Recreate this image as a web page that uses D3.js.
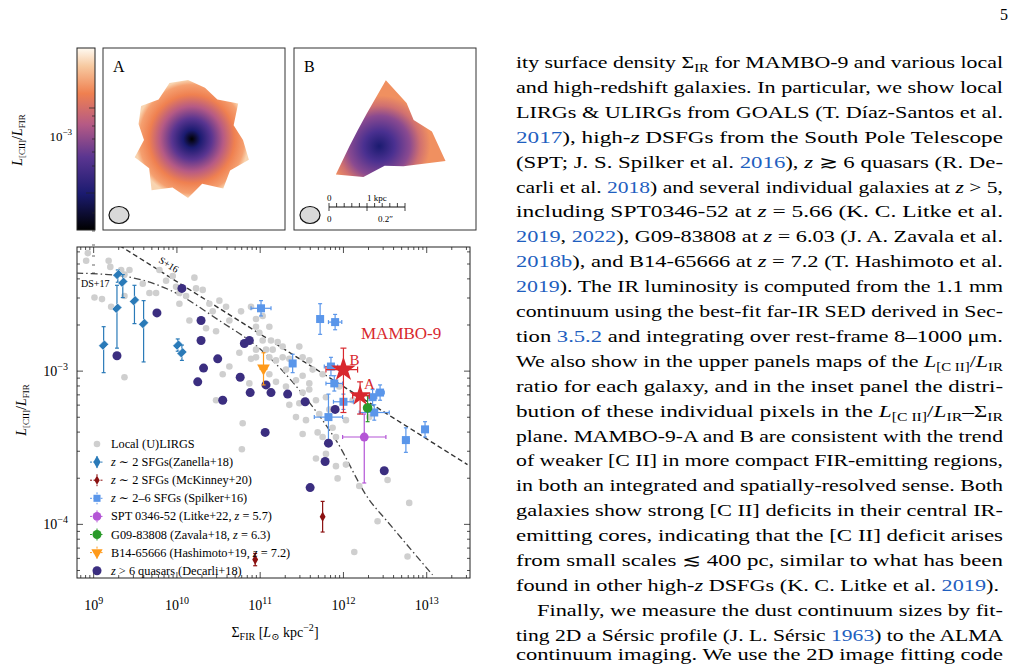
<!DOCTYPE html>
<html><head><meta charset="utf-8">
<script src="https://cdn.jsdelivr.net/npm/d3@7"></script>
<style>body{margin:0;background:#fff}svg{font-family:"Liberation Serif","DejaVu Serif",serif}</style>
</head><body><svg id="c" width="1033" height="664"></svg>
<script>
// ---- data (log10 values) ----
const localLIRGs = [[8.93,-2.23],[8.91,-2.28],[9.18,-2.28],[9.20,-2.32],[9.33,-2.34],[9.43,-2.34],[9.37,-2.37],[9.01,-2.52],[9.10,-2.53],[9.21,-2.58],[9.37,-2.51],[9.59,-2.43],[9.67,-2.49],[9.75,-2.49],[9.79,-2.34],[9.87,-2.41],[9.95,-2.38],[9.99,-2.45],[10.03,-2.49],[10.11,-2.51],[10.03,-2.56],[10.21,-2.39],[10.23,-2.46],[10.31,-2.47],[10.39,-2.56],[10.51,-2.54],[10.59,-2.58],[10.43,-2.61],[10.15,-2.67],[10.35,-2.72],[10.47,-2.74],[10.63,-2.67],[10.77,-2.61],[10.89,-2.58],[10.95,-2.66],[11.03,-2.64],[10.95,-2.71],[10.99,-2.75],[11.11,-2.71],[11.03,-2.80],[11.13,-2.80],[11.21,-2.81],[11.27,-2.84],[11.15,-2.86],[11.07,-2.86],[10.95,-2.86],[10.89,-2.92],[10.95,-2.91],[11.11,-2.91],[11.27,-2.91],[11.19,-2.93],[11.35,-2.92],[11.47,-2.84],[11.51,-2.91],[11.59,-2.93],[11.31,-2.99],[11.19,-3.07],[11.43,-3.06],[11.51,-3.03],[11.63,-2.99],[11.75,-3.02],[11.59,-3.12],[11.47,-3.21],[11.35,-3.22],[11.43,-3.30],[11.55,-3.32],[11.79,-3.17],[11.67,-3.19],[11.95,-3.10],[10.47,-3.19],[10.79,-3.34],[10.63,-2.97],[10.55,-3.02],[9.37,-3.04],[11.51,-3.41],[11.69,-3.40],[11.75,-3.43],[11.91,-3.43],[12.03,-3.32],[11.87,-3.37],[11.67,-3.57],[11.79,-3.54],[11.91,-3.62],[12.03,-3.61],[11.93,-3.70],[12.19,-3.75],[12.53,-3.71],[12.41,-3.98],[12.13,-4.18],[12.77,-4.21],[12.79,-3.86],[10.78,-3.51],[12.11,-3.19],[12.31,-3.30],[11.51,-3.14],[11.71,-3.28],[11.83,-3.25],[11.31,-3.10],[11.59,-3.08],[11.11,-3.02],[10.87,-3.08],[10.75,-2.88]];
// [logx, logy, yErrLow, yErrHigh]
const zanella = [[9.29,-2.37,0.05,0.03],[9.35,-2.42,0.10,0.05],[9.28,-2.59,0.26,0.15],[9.49,-2.54,0.15,0.10],[9.60,-2.69,0.25,0.15],[9.12,-2.83,0.18,0.12],[10.01,-2.83,0.04,0.04],[10.06,-2.88,0.05,0.05]];
const mckinney = [[11.75,-3.95,0.10,0.10],[10.94,-4.23,0.04,0.04]];
// [logx, logy, xErr, yErr]
const spilker = [[11.01,-2.59,0.12,0.05],[11.72,-2.66,0.03,0.10],[11.90,-2.68,0.08,0.05],[11.39,-2.95,0.02,0.06],[11.85,-2.97,0.08,0.06],[11.89,-3.08,0.10,0.05],[12.00,-3.20,0.12,0.05],[12.35,-3.17,0.05,0.05],[12.44,-3.14,0.05,0.05],[12.37,-3.27,0.18,0.05],[11.82,-3.30,0.17,0.15],[12.75,-3.45,0.04,0.08],[12.98,-3.38,0.02,0.05]];
const quasars = [[10.06,-2.46],[9.76,-2.62],[10.29,-2.67],[10.29,-2.80],[10.81,-2.82],[10.87,-2.80],[9.28,-2.90],[10.49,-2.92],[10.32,-2.98],[10.25,-3.07],[10.76,-3.04],[11.07,-3.09],[10.88,-3.14],[11.13,-3.14],[11.33,-3.15],[10.55,-3.19],[11.54,-3.20],[11.90,-3.25],[11.06,-3.40],[11.82,-3.47],[11.78,-3.59],[12.49,-3.65],[11.60,-3.76]];
// [logx, logy, xlo, xhi, ylo, yhi]
const spt0346 = [[12.25,-3.43,11.99,12.51,-3.73,-3.28]];
const g09 = [[12.29,-3.24,12.29,12.29,-3.33,-3.16]];
const b14 = [[11.04,-2.98,11.00,11.08,-3.09,-2.88]];
const mambo = [["B",12.00,-2.99,11.79,12.17,-3.27,-2.85],["A",12.20,-3.16,12.11,12.31,-3.28,-3.07]];
const s16Line = [[9.31,-2.18],[13.49,-3.61]];
const ds17Curve = [[8.79,-2.36],[9.35,-2.38],[9.91,-2.47],[10.51,-2.67],[11.03,-2.87],[11.51,-3.15],[11.91,-3.45],[12.31,-3.84],[12.51,-3.97],[13.07,-4.33]];
const xTickExp = [9,10,11,12,13];
const yTickExp = [-3,-4];
const legendLabels = [["Local (U)LIRGS"],["z"," ∼ 2 SFGs(Zanella+18)"],["z"," ∼ 2 SFGs (McKinney+20)"],["z"," ∼ 2–6 SFGs (Spilker+16)"],["SPT 0346-52 (Litke+22, ","z"," = 5.7)"],["G09-83808 (Zavala+18, ","z"," = 6.3)"],["B14-65666 (Hashimoto+19, ","z"," = 7.2)"],["z"," > 6 quasars (Decarli+18)"]];

const svg = d3.select("#c");
const C = {grey:"#cfcfcf",zan:"#2a7ab8",mck:"#8b1010",spi:"#5a96ea",spt:"#b455d6",g09:"#2a9a2a",b14:"#ff9a1a",qso:"#3b2e80",red:"#d8282e"};
const P = 10;
const x = d3.scaleLog().domain([P**8.8,P**13.52]).range([77,470]);
const y = d3.scaleLog().domain([P**-4.35,P**-2.19]).range([578,247]);
const X = l=>x(P**l), Y = l=>y(P**l);
const g = svg.append("g");
g.append("rect").attr("x",77).attr("y",247).attr("width",393).attr("height",331).attr("fill","none").attr("stroke","#222").attr("stroke-width",1);
svg.append("clipPath").attr("id","pc").append("rect").attr("x",77).attr("y",247).attr("width",393).attr("height",331);
const pg = g.append("g").attr("clip-path","url(#pc)");

[["b",578],["t",247]].forEach(([s,yy])=>{
  const a = g.append("g").attr("transform",`translate(0,${yy})`);
  x.ticks().forEach(t=>{const maj=Math.abs(Math.log10(t)%1)<1e-6; const len=maj?6:3; a.append("line").attr("x1",x(t)).attr("x2",x(t)).attr("y1",0).attr("y2",s=="b"?-len:len).attr("stroke","#222").attr("stroke-width",0.8);});
});
[["l",77],["r",470]].forEach(([s,xx])=>{
  const a = g.append("g").attr("transform",`translate(${xx},0)`);
  y.ticks().forEach(t=>{const maj=Math.abs(Math.log10(t)%1)<1e-6; const len=maj?6:3; a.append("line").attr("y1",y(t)).attr("y2",y(t)).attr("x1",0).attr("x2",s=="l"?len:-len).attr("stroke","#222").attr("stroke-width",0.8);});
});
xTickExp.forEach(e=>{const t=g.append("text").attr("x",X(e)).attr("y",610).attr("text-anchor","middle").attr("font-size",14);t.append("tspan").text("10");t.append("tspan").attr("dy",-6).attr("font-size",10).text(e);});
yTickExp.forEach(e=>{const t=g.append("text").attr("x",68).attr("y",Y(e)+5).attr("text-anchor","end").attr("font-size",14);t.append("tspan").text("10");t.append("tspan").attr("dy",-6).attr("font-size",10).text("−"+(-e));});
const xl = g.append("text").attr("x",275).attr("y",637).attr("text-anchor","middle").attr("font-size",14);
xl.append("tspan").text("Σ");xl.append("tspan").attr("font-size",10).attr("dy",3).text("FIR");xl.append("tspan").attr("dy",-3).text(" [");xl.append("tspan").attr("font-style","italic").text("L");xl.append("tspan").attr("font-size",10).attr("dy",3).text("⊙");xl.append("tspan").attr("dy",-3).text(" kpc");xl.append("tspan").attr("font-size",10).attr("dy",-6).text("−2");xl.append("tspan").attr("dy",6).text("]");
function ylab(cx,cy){const t=svg.append("text").attr("transform",`translate(${cx},${cy}) rotate(-90)`).attr("text-anchor","middle").attr("font-size",14);
 t.append("tspan").attr("font-style","italic").text("L");t.append("tspan").attr("font-size",9).attr("dy",3).text("[CII]");t.append("tspan").attr("dy",-3).text("/");t.append("tspan").attr("font-style","italic").text("L");t.append("tspan").attr("font-size",9).attr("dy",3).text("FIR");}
ylab(26,410);

pg.append("path").attr("d",d3.line().x(d=>X(d[0])).y(d=>Y(d[1]))(s16Line)).attr("fill","none").attr("stroke","#333").attr("stroke-width",1.4).attr("stroke-dasharray","5,3");
pg.append("path").attr("d",d3.line().curve(d3.curveMonotoneX).x(d=>X(d[0])).y(d=>Y(d[1]))(ds17Curve)).attr("fill","none").attr("stroke","#444").attr("stroke-width",1.3).attr("stroke-dasharray","7,3,1.5,3");
g.append("text").attr("transform","translate(158,262) rotate(32)").attr("font-size",10).text("S+16");
g.append("text").attr("x",81).attr("y",287).attr("font-size",10).text("DS+17");

pg.selectAll(".gl").data(localLIRGs).join("circle").attr("cx",d=>X(d[0])).attr("cy",d=>Y(d[1])).attr("r",3.3).attr("fill",C.grey);
function vbar(p,xv,lo,hi,col,w){p.append("line").attr("x1",X(xv)).attr("x2",X(xv)).attr("y1",Y(lo)).attr("y2",Y(hi)).attr("stroke",col).attr("stroke-width",1.2);[lo,hi].forEach(v=>p.append("line").attr("x1",X(xv)-w).attr("x2",X(xv)+w).attr("y1",Y(v)).attr("y2",Y(v)).attr("stroke",col).attr("stroke-width",1.2));}
function hbar(p,yv,lo,hi,col,w){p.append("line").attr("y1",Y(yv)).attr("y2",Y(yv)).attr("x1",X(lo)).attr("x2",X(hi)).attr("stroke",col).attr("stroke-width",1.2);[lo,hi].forEach(v=>p.append("line").attr("y1",Y(yv)-w).attr("y2",Y(yv)+w).attr("x1",X(v)).attr("x2",X(v)).attr("stroke",col).attr("stroke-width",1.2));}
const sym=(t,s)=>d3.symbol().type(t).size(s)();
spilker.forEach(d=>{hbar(pg,d[1],d[0]-d[2],d[0]+d[2],C.spi,2);vbar(pg,d[0],d[1]-d[3],d[1]+d[3],C.spi,2);});
pg.selectAll(".sp").data(spilker).join("rect").attr("x",d=>X(d[0])-4).attr("y",d=>Y(d[1])-4).attr("width",8).attr("height",8).attr("fill",C.spi);
quasars.forEach(d=>pg.append("circle").attr("cx",X(d[0])).attr("cy",Y(d[1])).attr("r",4.5).attr("fill",C.qso));
zanella.forEach(d=>{vbar(pg,d[0],d[1]-d[2],d[1]+d[3],C.zan,2);pg.append("path").attr("d",sym(d3.symbolSquare,50)).attr("transform",`translate(${X(d[0])},${Y(d[1])}) rotate(45) scale(0.85,1.15)`).attr("fill",C.zan).attr("stroke","#fff").attr("stroke-width",0.5);});
mckinney.forEach(d=>{vbar(pg,d[0],d[1]-d[2],d[1]+d[3],C.mck,2);pg.append("path").attr("d",sym(d3.symbolDiamond,30)).attr("transform",`translate(${X(d[0])},${Y(d[1])})`).attr("fill",C.mck);});
b14.forEach(d=>{vbar(pg,d[0],d[4],d[5],C.b14,2);hbar(pg,d[1],d[2],d[3],C.b14,2);pg.append("path").attr("d",sym(d3.symbolTriangle,70)).attr("transform",`translate(${X(d[0])},${Y(d[1])}) rotate(180)`).attr("fill",C.b14);});
spt0346.forEach(d=>{vbar(pg,d[0],d[4],d[5],C.spt,2);hbar(pg,d[1],d[2],d[3],C.spt,2);pg.append("circle").attr("r",4.4).attr("transform",`translate(${X(d[0])},${Y(d[1])})`).attr("fill",C.spt);});
g09.forEach(d=>{vbar(pg,d[0],d[4],d[5],C.g09,2);pg.append("circle").attr("cx",X(d[0])).attr("cy",Y(d[1])).attr("r",4.8).attr("fill",C.g09);});
mambo.forEach(d=>{vbar(pg,d[1],d[5],d[6],C.red,3);hbar(pg,d[2],d[3],d[4],C.red,3);pg.append("path").attr("d",sym(d3.symbolStar,d[0]=="B"?190:140)).attr("transform",`translate(${X(d[1])},${Y(d[2])})`).attr("fill",C.red);
 pg.append("text").attr("x",X(d[1])+(d[0]=="B"?6:4)).attr("y",Y(d[2])-(d[0]=="B"?5:7)).attr("font-size",15).attr("fill",C.red).text(d[0]);});
g.append("text").attr("x",361).attr("y",339).attr("font-size",17).attr("fill",C.red).text("MAMBO-9");

const lg = g.append("g");
legendLabels.forEach((lab,i)=>{const yy=444+i*18.1; const t=lg.append("text").attr("x",111).attr("y",yy+4).attr("font-size",12.3);
 lab.forEach(s=>t.append("tspan").attr("font-style",s=="z"?"italic":null).text(s));
 const mx=97; const cols=[C.grey,C.zan,C.mck,C.spi,C.spt,C.g09,C.b14,C.qso]; const col=cols[i];
 if(i>0&&i<7){lg.append("line").attr("x1",mx-7).attr("x2",mx+7).attr("y1",yy).attr("y2",yy).attr("stroke",col).attr("stroke-dasharray","2,1.5");lg.append("line").attr("x1",mx).attr("x2",mx).attr("y1",yy-6).attr("y2",yy+6).attr("stroke",col).attr("stroke-dasharray","2,1.5");}
 let m;
 if(i==0) m=lg.append("circle").attr("r",3.3);
 if(i==1) m=lg.append("path").attr("d",sym(d3.symbolDiamond,45));
 if(i==2) m=lg.append("path").attr("d",sym(d3.symbolDiamond,25));
 if(i==3) m=lg.append("path").attr("d",sym(d3.symbolSquare,50));
 if(i==4) m=lg.append("circle").attr("r",4.3);
 if(i==5) m=lg.append("circle").attr("r",4.5);
 if(i==6) m=lg.append("path").attr("d",sym(d3.symbolTriangle,55)).attr("transform",`translate(${mx},${yy}) rotate(180)`);
 if(i==7) m=lg.append("circle").attr("r",4.5);
 m.attr("fill",col); if(i!=6) m.attr("transform",`translate(${mx},${yy})`);
});

// ---- top map panels ----
const defs = svg.append("defs");
const cmapStops = [[0,"#000000"],[0.2,"#1b1b70"],[0.4,"#5a3590"],[0.58,"#b55a85"],[0.75,"#ef8050"],[0.9,"#f7c9a0"],[1,"#fffaf2"]];
const cb = defs.append("linearGradient").attr("id","cb").attr("x1",0).attr("y1",1).attr("x2",0).attr("y2",0);
cmapStops.forEach(s=>cb.append("stop").attr("offset",s[0]).attr("stop-color",s[1]));
svg.append("rect").attr("x",77).attr("y",48).attr("width",18).attr("height",182).attr("fill","url(#cb)").attr("stroke","#222");
[[60,6],[145,9],[165,3],[183,3],[197,3],[208,3],[217,3],[225,3],[68,3],[78,3],[91,3],[104,3],[118,3]].forEach(d=>svg.append("line").attr("x1",95).attr("x2",95-d[1]).attr("y1",d[0]+48).attr("y2",d[0]+48).attr("stroke","#222").attr("stroke-width",0.7));
{const t=svg.append("text").attr("x",72).attr("y",141).attr("text-anchor","end").attr("font-size",13);t.append("tspan").text("10");t.append("tspan").attr("dy",-6).attr("font-size",9).text("−3");}
ylab(22,140);
function radial(id,stops){const r=defs.append("radialGradient").attr("id",id);stops.forEach(s=>r.append("stop").attr("offset",s[0]).attr("stop-color",s[1]));}
radial("ga",[[0,"#000"],[0.15,"#1b1b70"],[0.35,"#5a3590"],[0.55,"#b55a85"],[0.75,"#ef8050"],[0.92,"#f5a070"],[1,"#f8d4b0"]]);
radial("gb",[[0,"#1b1b70"],[0.3,"#4a3090"],[0.6,"#8a4a90"],[0.8,"#d07070"],[1,"#f09060"]]);
const polar=(rs)=>d3.lineRadial().curve(d3.curveLinearClosed).angle((d,i)=>i/rs.length*2*Math.PI).radius(d=>d)(rs);
[[103,"A"],[294,"B"]].forEach(([px,lab])=>{
 svg.append("rect").attr("x",px).attr("y",48).attr("width",182).attr("height",182).attr("fill","#fff").attr("stroke","#333");
 svg.append("text").attr("x",px+10).attr("y",72).attr("font-size",16).text(lab);
 svg.append("ellipse").attr("cx",px+16).attr("cy",215).attr("rx",10).attr("ry",8.5).attr("fill","#d9d9d9").attr("stroke","#111").attr("stroke-width",1.2);
});
svg.append("path").attr("d",polar([60,55,50,62,48,55,64,52,60,46,58,50,62,48,56,44,52,58,50,60])).attr("transform","translate(188,140)").attr("fill","url(#ga)");
svg.append("path").attr("d",polar([40,70,45,35,50,75,40,30,45,60,38,34])).attr("transform","translate(385,140) rotate(-35) scale(1,0.8)").attr("fill","url(#gb)");
svg.append("line").attr("x1",329).attr("x2",405).attr("y1",207).attr("y2",207).attr("stroke","#111");
d3.range(0,11).forEach(i=>svg.append("line").attr("x1",329+i*7.6).attr("x2",329+i*7.6).attr("y1",203).attr("y2",i%5==0?211:207).attr("stroke","#111").attr("stroke-width",0.8));
svg.append("text").attr("x",327).attr("y",201).attr("font-size",9).text("0");
svg.append("text").attr("x",367).attr("y",201).attr("font-size",9).text("1 kpc");
svg.append("text").attr("x",327).attr("y",222).attr("font-size",9).text("0");
svg.append("text").attr("x",378).attr("y",222).attr("font-size",9).text("0.2″");

// ---- text column ----
const B="#1f5fbf";
const lines = [
[["ity surface density Σ"],["IR","sub"],[" for MAMBO-9 and various local"]],
[["and high-redshift galaxies. In particular, we show local"]],
[["LIRGs & ULIRGs from GOALS (T. Díaz-Santos et al."]],
[["2017","b"],["), high-"],["z","i"],[" DSFGs from the South Pole Telescope"]],
[["(SPT; J. S. Spilker et al. "],["2016","b"],["), "],["z","i"],[" ≳ 6 quasars (R. De-"]],
[["carli et al. "],["2018","b"],[") and several individual galaxies at "],["z","i"],[" > 5,"]],
[["including SPT0346-52 at "],["z","i"],[" = 5.66 (K. C. Litke et al."]],
[["2019","b"],[", "],["2022","b"],["), G09-83808 at "],["z","i"],[" = 6.03 (J. A. Zavala et al."]],
[["2018b","b"],["), and B14-65666 at "],["z","i"],[" = 7.2 (T. Hashimoto et al."]],
[["2019","b"],["). The IR luminosity is computed from the 1.1 mm"]],
[["continuum using the best-fit far-IR SED derived in Sec-"]],
[["tion "],["3.5.2","b"],[" and integrating over rest-frame 8–1000 μm."]],
[["We also show in the upper panels maps of the "],["L","i"],["[C II]","sub"],["/"],["L","i"],["IR","sub"]],
[["ratio for each galaxy, and in the inset panel the distri-"]],
[["bution of these individual pixels in the "],["L","i"],["[C II]","sub"],["/"],["L","i"],["IR","sub"],["–Σ"],["IR","sub"]],
[["plane. MAMBO-9-A and B are consistent with the trend"]],
[["of weaker [C II] in more compact FIR-emitting regions,"]],
[["in both an integrated and spatially-resolved sense. Both"]],
[["galaxies show strong [C II] deficits in their central IR-"]],
[["emitting cores, indicating that the [C II] deficit arises"]],
[["from small scales ≲ 400 pc, similar to what has been"]],
[["found in other high-"],["z","i"],[" DSFGs (K. C. Litke et al. "],["2019","b"],[")."]],
[["Finally, we measure the dust continuum sizes by fit-"]],
[["ting 2D a Sérsic profile (J. L. Sérsic "],["1963","b"],[") to the ALMA"]],
[["continuum imaging. We use the 2D image fitting code"]]
];
const tx = svg.append("g");
lines.forEach((ln,i)=>{
 const x0 = i==22?537:516, w=(i==21?999:1003)-x0;
 const t=tx.append("text").attr("x",x0).attr("y",Math.min(68+i*24.9,660)).attr("font-size",17);
 t.attr("textLength",w).attr("lengthAdjust","spacingAndGlyphs");
 let sub=false;
 ln.forEach(([s,st])=>{const sp=t.append("tspan").text(s);
  if(st=="b") sp.attr("fill",B);
  if(st=="i") sp.attr("font-style","italic");
  if(st=="sub"){sp.attr("font-size",11.5).attr("dy",sub?0:4);sub=true;}
  else if(sub){sp.attr("dy",-4);sub=false;}
 });
});
svg.append("text").attr("x",1000).attr("y",20).attr("font-size",16).text("5");
</script></body></html>
